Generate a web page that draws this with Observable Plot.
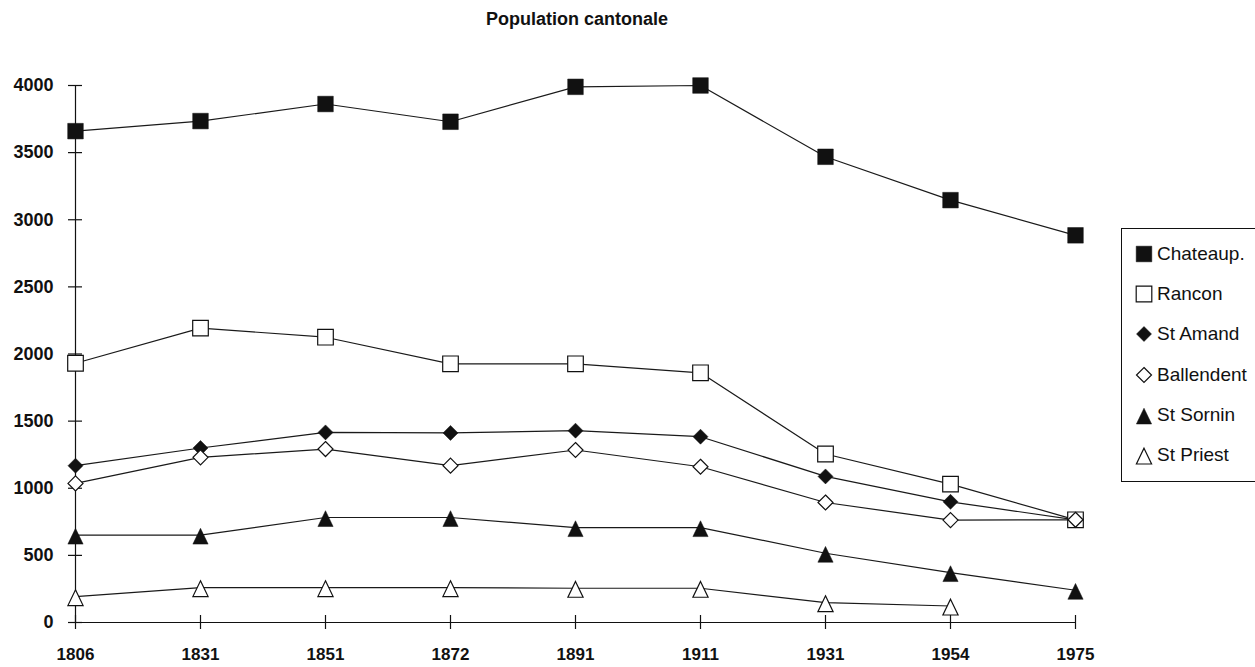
<!DOCTYPE html>
<html>
<head>
<meta charset="utf-8">
<script src="https://cdn.jsdelivr.net/npm/d3@7"></script>
<script src="https://cdn.jsdelivr.net/npm/@observablehq/plot@0.6"></script>
<style>
  body { margin: 0; background: #fff; }
  #wrap { position: relative; width: 1255px; height: 667px; overflow: hidden; font-family: "Liberation Sans", Arial, Helvetica, sans-serif; color: #111; }
  #title { position: absolute; left: 427px; width: 300px; top: 9px; text-align: center; font-size: 18px; line-height: 20px; font-weight: bold; }
  #chart { position: absolute; left: 0; top: 50px; }
  #legend { position: absolute; left: 1121px; top: 228px; width: 160px; height: 254px; border: 1px solid #111; box-sizing: border-box; }
  .item { position: absolute; left: 0; height: 24px; width: 160px; }
  .item svg { position: absolute; left: 11px; top: 1px; }
  .item span { position: absolute; left: 35px; top: 1px; font-size: 19px; line-height: 22px; white-space: nowrap; }
</style>
</head>
<body>
<div id="wrap">
  <div id="title">Population cantonale</div>
  <div id="chart"></div>
  <div id="legend"></div>
</div>
<script>
// ---- data ----
const years = ["1806", "1831", "1851", "1872", "1891", "1911", "1931", "1954", "1975"];
const seriesNames = ["Chateaup.", "Rancon", "St Amand", "Ballendent", "St Sornin", "St Priest"];
const chateaup   = [3660, 3735, 3862, 3730, 3990, 4000, 3469, 3146, 2884];
const rancon     = [1931, 2193, 2125, 1927, 1927, 1860, 1255, 1031, 765];
const stAmand    = [1168, 1300, 1416, 1412, 1429, 1384, 1088, 899, 765];
const ballendent = [1036, 1230, 1292, 1168, 1285, 1160, 894, 763, 765];
const stSornin   = [651, 651, 782, 782, 707, 707, 516, 372, 240];
const stPriest   = [193, 260, 260, 260, 255, 255, 148, 123, null];
const yTicks = [0, 500, 1000, 1500, 2000, 2500, 3000, 3500, 4000];

// ---- symbols (custom, drawn at size 100 => unit scale) ----
const k = s => Math.sqrt(s) / 10;
const squareSym = { draw(c, s) { const h = 7.8 * k(s); c.moveTo(-h, -h); c.lineTo(h, -h); c.lineTo(h, h); c.lineTo(-h, h); c.closePath(); } };
const diamondSym = { draw(c, s) { const h = 7.5 * k(s); c.moveTo(0, -h); c.lineTo(h, 0); c.lineTo(0, h); c.lineTo(-h, 0); c.closePath(); } };
const triangleSym = { draw(c, s) { const q = k(s); c.moveTo(0, -6.8 * q); c.lineTo(7.6 * q, 9 * q); c.lineTo(-7.6 * q, 9 * q); c.closePath(); } };

const valuesList = [chateaup, rancon, stAmand, ballendent, stSornin, stPriest];
const symbols = [squareSym, squareSym, diamondSym, diamondSym, triangleSym, triangleSym];
const filled = [true, false, true, false, true, false];

const rows = seriesNames.flatMap((name, si) =>
  years.map((yr, i) => ({ series: name, year: yr, value: valuesList[si][i] }))
       .filter(d => d.value != null));

const R = Math.sqrt(100 / Math.PI);
const ink = "#111";

const dotMarks = seriesNames.map((name, si) =>
  Plot.dot(rows.filter(d => d.series === name), {
    x: "year", y: "value", symbol: symbols[si], r: R,
    fill: filled[si] ? ink : "white", stroke: ink, strokeWidth: filled[si] ? 0.5 : 1.2
  }));

const chart = Plot.plot({
  width: 1255,
  height: 617,
  marginLeft: 73,
  marginRight: 178,
  marginTop: 35,
  marginBottom: 45,
  style: { fontSize: "17px", fontWeight: "bold", fontFamily: "'Liberation Sans', Arial, Helvetica, sans-serif", color: ink, background: "white" },
  x: { type: "point", domain: years, padding: 0, tickSize: 0, tickPadding: 25, label: null },
  y: { domain: [0, 4000], ticks: yTicks, tickFormat: d => String(d), tickSize: 0, tickPadding: 20, label: null },
  marks: [
    // axis lines
    Plot.ruleX([years[0]], { x: d => d, y1: () => 0, y2: () => 4000, stroke: ink, strokeWidth: 1.2 }),
    Plot.ruleY([0], { y: d => d, x1: () => years[0], x2: () => years[years.length - 1], insetLeft: -7, stroke: ink, strokeWidth: 1.2 }),
    // crossing tick marks
    Plot.ruleY(yTicks, { y: d => d, x1: () => years[0], x2: () => years[0], insetLeft: -7, insetRight: -7, stroke: ink, strokeWidth: 1.2 }),
    Plot.ruleX(years, { x: d => d, y1: () => 0, y2: () => 0, insetTop: -7, insetBottom: -7, stroke: ink, strokeWidth: 1.2 }),
    // series lines
    Plot.line(rows, { x: "year", y: "value", z: "series", stroke: "#1a1a1a", strokeWidth: 1.2 }),
    ...dotMarks
  ]
});
chart.querySelectorAll("[aria-label='y-axis tick label'] text, g[aria-label='y-axis'] text").forEach(t => t.setAttribute("font-size", "18"));
document.getElementById("chart").appendChild(chart);

// ---- legend ----
const legend = d3.select("#legend");
seriesNames.forEach((name, si) => {
  const item = legend.append("div").attr("class", "item").style("top", (24.7 + 40.3 * si - 12) + "px");
  const svg = item.append("svg").attr("width", 22).attr("height", 22);
  svg.append("path")
    .attr("transform", "translate(11,11)")
    .attr("d", d3.symbol(symbols[si], 100)())
    .attr("fill", filled[si] ? ink : "white")
    .attr("stroke", ink)
    .attr("stroke-width", filled[si] ? 0.5 : 1.2);
  item.append("span").text(name);
});
</script>
</body>
</html>
